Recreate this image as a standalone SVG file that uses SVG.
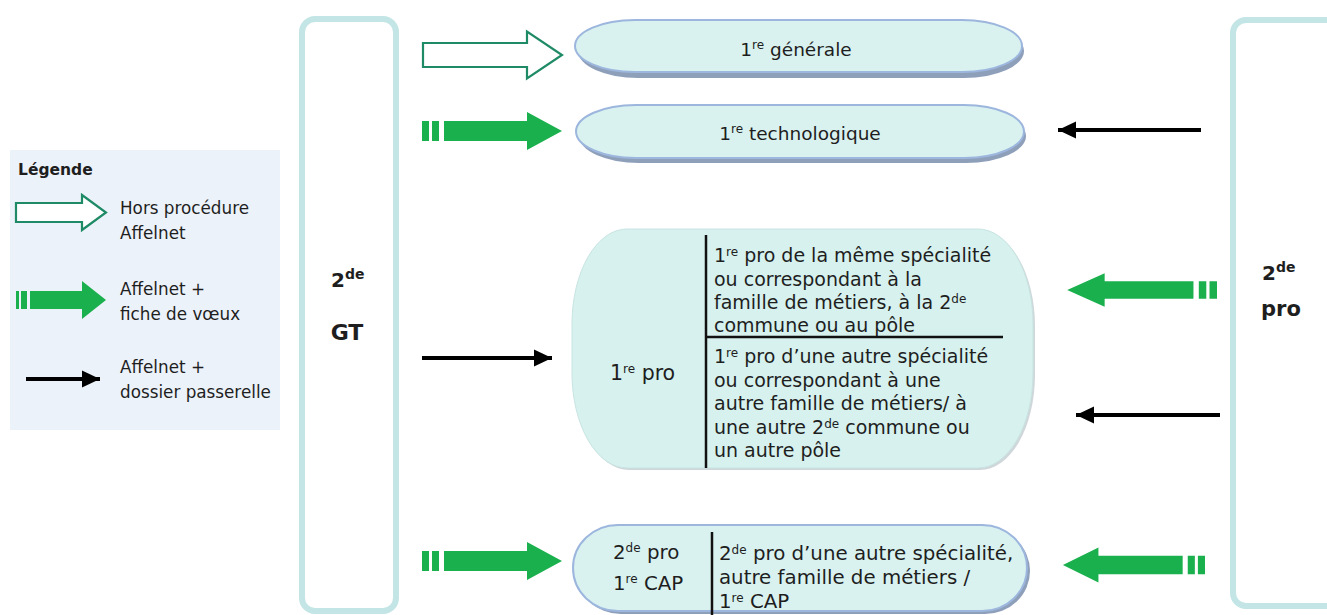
<svg xmlns="http://www.w3.org/2000/svg" width="1327" height="615" viewBox="0 0 1327 615">
<defs>
<style>
text{font-family:"DejaVu Sans","Noto Sans","Liberation Sans",sans-serif;fill:#1e1e1e;}
.tm{font-size:19px;}
.tb{font-size:19.8px;}
.tt{font-size:18.5px;}
.tl{font-size:16.8px;}
.b{font-weight:bold;}
.sup{font-size:12px;}
.col{fill:#ffffff;stroke:#c3e5e5;stroke-width:6;}
.pill{fill:#d9f2f0;stroke:#9cb6de;stroke-width:2;}
.shadow{fill:#8e9fba;}
.green{fill:#1bb04e;}
.hollow{fill:#ffffff;stroke:#1e8a66;stroke-width:2.2;}
.blk{stroke:#000000;stroke-width:4;fill:none;}
.div{stroke:#111111;stroke-width:2.5;fill:none;}
</style>
<marker id="ah" markerUnits="userSpaceOnUse" markerWidth="20" markerHeight="20" viewBox="0 0 20 20" refX="18" refY="10" orient="auto">
<path d="M0,1.5 L18,10 L0,18.5 Z" fill="#000000"/>
</marker>
<path id="garrow" d="M0,-10 H7 V10 H0 Z M10,-10 H17 V10 H10 Z M22,-10 H105 V-19 L140,0 L105,19 V10 H22 Z"/>
</defs>

<g id="legend">
<rect x="10" y="150" width="270" height="280" fill="#ecf2f9"/>
<text x="18" y="175" class="b" font-size="15.5">Légende</text>
<path class="hollow" d="M16,203 H82 V195 L106,212.5 L82,230 V222 H16 Z"/>
<text x="120" y="214" class="tl">Hors procédure</text>
<text x="120" y="239" class="tl">Affelnet</text>
<path class="green" d="M16,291 H19 V309 H16 Z M21,291 H27 V309 H21 Z M30,291 H82 V281 L106,300 L82,319 V309 H30 Z"/>
<text x="120" y="295" class="tl">Affelnet +</text>
<text x="120" y="320" class="tl">fiche de vœux</text>
<line x1="26" y1="379" x2="100" y2="379" class="blk" marker-end="url(#ah)"/>
<text x="120" y="373" class="tl">Affelnet +</text>
<text x="120" y="398" class="tl">dossier passerelle</text>
</g>

<g id="node-2de-gt">
<rect x="302" y="19" width="94" height="592" rx="13" class="col"/>
<text x="331" y="287" class="b" font-size="20">2<tspan font-size="14" dy="-8">de</tspan></text>
<text x="347" y="340" class="b" font-size="22" text-anchor="middle">GT</text>
</g>

<g id="node-2de-pro">
<rect x="1233" y="20" width="110" height="586" rx="13" class="col"/>
<text x="1262" y="280" class="b" font-size="20">2<tspan font-size="14" dy="-8">de</tspan></text>
<text x="1261" y="316" class="b" font-size="21">pro</text>
</g>

<g id="node-1re-generale">
<path class="shadow" d="M638,24 H964 A60 27 0 0 1 964 78 H638 A60 27 0 0 1 638 24 Z"/>
<path class="pill" d="M635,20 H962 A60 26 0 0 1 962 72 H635 A60 26 0 0 1 635 20 Z"/>
<text x="796" y="56" class="tt" text-anchor="middle">1<tspan class="sup" dy="-7">re</tspan><tspan dy="7"> générale</tspan></text>
</g>

<g id="node-1re-techno">
<path class="shadow" d="M639,109 H966 A60 27 0 0 1 966 163 H639 A60 27 0 0 1 639 109 Z"/>
<path class="pill" d="M636,105 H964 A60 26.5 0 0 1 964 158 H636 A60 26.5 0 0 1 636 105 Z"/>
<text x="800" y="140" class="tt" text-anchor="middle">1<tspan class="sup" dy="-7">re</tspan><tspan dy="7"> technologique</tspan></text>
</g>

<g id="node-1re-pro">
<path fill="#a9b7bd" opacity="0.55" d="M629,231 H980 A55 95 0 0 1 1035 326 V375 A55 95 0 0 1 980 470 H629 A55 95 0 0 1 574 375 V326 A55 95 0 0 1 629 231 Z"/>
<path fill="#d6f1ee" stroke="#c8e4e2" stroke-width="1" d="M627,229 H978 A55 95 0 0 1 1033 324 V373 A55 95 0 0 1 978 468 H627 A55 95 0 0 1 572 373 V324 A55 95 0 0 1 627 229 Z"/>
<line x1="706" y1="235" x2="706" y2="468" class="div"/>
<line x1="706" y1="337" x2="1003" y2="337" class="div"/>
<text x="610" y="380" font-size="20.5">1<tspan class="sup" dy="-7">re</tspan><tspan dy="7"> pro</tspan></text>
<g class="tm">
<text x="714" y="262">1<tspan class="sup" dy="-6">re</tspan><tspan dy="6"> pro de la même spécialité</tspan></text>
<text x="714" y="286">ou correspondant à la</text>
<text x="714" y="309">famille de métiers, à la 2<tspan class="sup" dy="-6">de</tspan></text>
<text x="714" y="332">commune ou au pôle</text>
<text x="714" y="363">1<tspan class="sup" dy="-6">re</tspan><tspan dy="6"> pro d’une autre spécialité</tspan></text>
<text x="714" y="387">ou correspondant à une</text>
<text x="714" y="410">autre famille de métiers/ à</text>
<text x="714" y="434">une autre 2<tspan class="sup" dy="-6">de</tspan><tspan dy="6"> commune ou</tspan></text>
<text x="714" y="457">un autre pôle</text>
</g>
</g>

<g id="node-2de-pro-cap">
<path class="shadow" d="M621,528 H985 A45 43 0 0 1 985 614 H621 A45 43 0 0 1 621 528 Z"/>
<path class="pill" d="M618,525 H982 A45 43 0 0 1 982 611 H618 A45 43 0 0 1 618 525 Z"/>
<line x1="712" y1="532" x2="712" y2="615" class="div"/>
<text x="613" y="559" class="tb">2<tspan class="sup" dy="-7">de</tspan><tspan dy="7"> pro</tspan></text>
<text x="613" y="590" class="tb">1<tspan class="sup" dy="-7">re</tspan><tspan dy="7"> CAP</tspan></text>
<text x="719" y="560" class="tb">2<tspan class="sup" dy="-6">de</tspan><tspan dy="6"> pro d’une autre spécialité,</tspan></text>
<text x="719" y="584" class="tb">autre famille de métiers /</text>
<text x="719" y="607.5" class="tb">1<tspan class="sup" dy="-6">re</tspan><tspan dy="6">  CAP</tspan></text>
</g>

<g id="connectors">
<path class="hollow" d="M423,43 H527 V31.5 L562,55 L527,78.5 V67 H423 Z"/>
<use href="#garrow" class="green" transform="translate(422,131)"/>
<line x1="422" y1="358" x2="552" y2="358" class="blk" marker-end="url(#ah)"/>
<use href="#garrow" class="green" transform="translate(422,561)"/>
<line x1="1201" y1="130" x2="1058" y2="130" class="blk" marker-end="url(#ah)"/>
<use href="#garrow" class="green" transform="translate(1217,290) scale(-1.07,0.88)"/>
<line x1="1220" y1="415" x2="1076" y2="415" class="blk" marker-end="url(#ah)"/>
<use href="#garrow" class="green" transform="translate(1205,565) scale(-1.015,0.92)"/>
</g>
</svg>
